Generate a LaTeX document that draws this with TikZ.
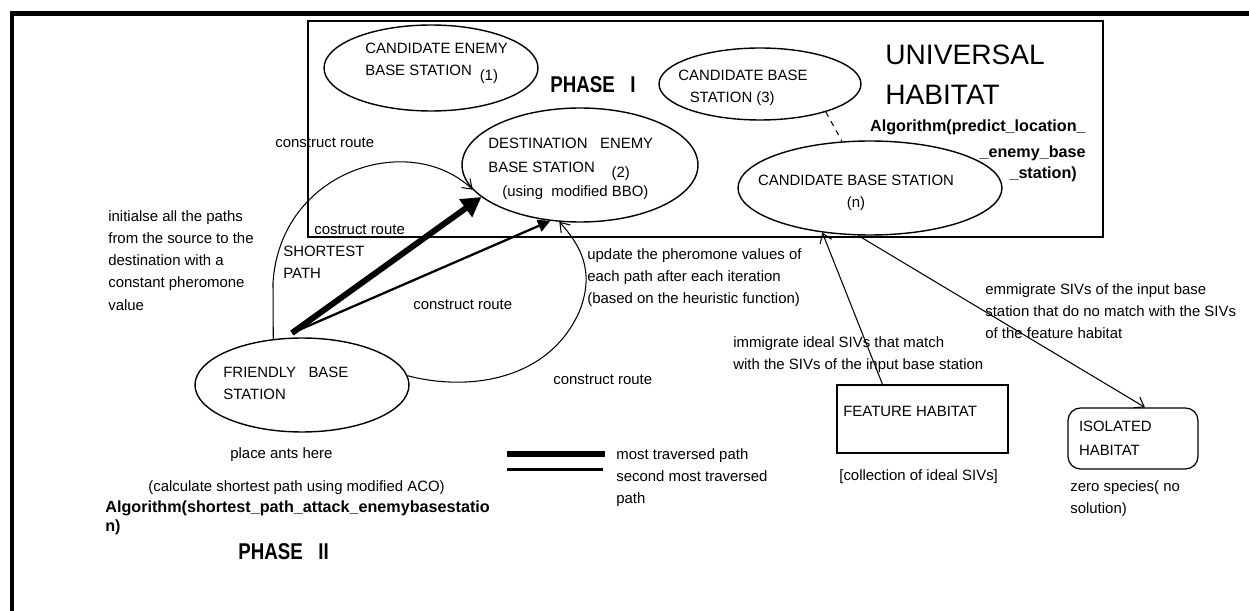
\documentclass[tikz,border=0pt]{standalone}
\usepackage{fontspec}
\setmainfont{Liberation Sans}
\usetikzlibrary{shapes.geometric,arrows.meta}
\newcommand\lbl[3]{\node[note](#1)at(#2){#3};}
\newcommand\phasetxt[1]{\scalebox{0.82}[1]{#1}}

\begin{document}
\begin{tikzpicture}[x=0.02cm,y=-0.02cm,font=\fontsize{8.5}{12.6}\selectfont]
% Node styles: stations, habitats and plain notes
\tikzstyle{station}=[ellipse,draw,line width=0.8pt,inner sep=0pt];
\tikzstyle{habitat}=[rectangle,draw,line width=0.7pt,inner sep=0pt];
\tikzstyle{note}=[anchor=west,inner sep=0pt,align=left];
\tikzstyle{algo}=[note,font=\bfseries\fontsize{9.2}{10.8}\selectfont];
\tikzstyle{phase}=[note,font=\bfseries\fontsize{13}{15}\selectfont];
% Line styles for the routes
\tikzstyle{trail}=[line width=0.6pt];
\tikzstyle{route}=[trail,-{Straight Barb[length=5pt,width=7pt]}];
\useasboundingbox (0,0) rectangle (1249,611);
% Frame
\draw[line width=2.6pt] (12,611) -- (12,13.5) -- (1249,13.5);
% Phase I: the universal habitat
\node[habitat,minimum width=15.9cm,minimum height=4.32cm](box) at (705.5,129) {};
\node[station,minimum width=4.28cm,minimum height=1.72cm](cand1) at (431,68) {};
\node[station,minimum width=4.04cm,minimum height=1.44cm](cand3) at (760,84) {};
\node[station,minimum width=5.28cm,minimum height=1.88cm](candN) at (870,188) {};
\node[station,minimum width=4.72cm,minimum height=2.28cm](dest) at (580,165) {};
\lbl{cand1txt}{365,63.5}{CANDIDATE ENEMY\\BASE STATION\hspace{4.5pt}\raisebox{-3pt}{(1)}}
\lbl{cand3txt}{678,87.5}{CANDIDATE BASE\\\hspace*{6.5pt}STATION (3)}
\lbl{desttxt}{488,169}{DESTINATION\ \ \ ENEMY\\[1pt]BASE STATION\hspace{9.5pt}\raisebox{-3pt}{(2)}\\[1pt]\hspace*{8pt}(using\ \ modified BBO)}
\node[note,anchor=center,align=center](candNtxt) at (856,192.5) {CANDIDATE BASE STATION\\(n)};
\node[phase](phase1) at (550,85) {\phasetxt{PHASE\ \ \ I}};
\node[note,font=\fontsize{16}{22.8}\selectfont](univ) at (885,75) {UNIVERSAL\\HABITAT};
\node[algo,anchor=east,align=right](algo1) at (1086,150.5) {Algorithm(predict\_location\_\\[4pt]\_enemy\_base\\[1pt]\_station)\hspace*{5pt}};
\draw[trail,dashed] (cand3.337) -- (candN.121);
% Phase II: ants from the friendly base station
\node[station,minimum width=4.28cm,minimum height=1.88cm](friendly) at (302,385) {};
\lbl{friendtxt}{223,383.5}{FRIENDLY\ \ \ BASE\\STATION}
\coordinate (antsrc) at (292,333);
\draw[line width=3.4pt,-{Triangle[length=11pt,width=12pt]}] (antsrc) -- (dest.198);
\draw[line width=1.3pt,-{Triangle[length=7pt,width=7pt]}] (antsrc) -- (dest.242);
\draw[route] (friendly.122) -- (273,283) .. controls (280,170) and (410,130) .. (dest.193);
\draw[route] (friendly.5) .. controls (470,392) and (550,380) .. (580,310) .. controls (595,270) and (580,245) .. (dest.250);
\lbl{cr1}{275,143}{construct route}
\lbl{cr2}{314,230}{costruct route}
\lbl{shortest}{283,262.5}{SHORTEST\\PATH}
\lbl{init}{108,260.5}{initialse all the paths\\from the source to the\\destination with a\\constant pheromone\\value}
\lbl{cr3}{413,305}{construct route}
\lbl{cr4}{553,380}{construct route}
\lbl{update}{587,277.5}{update the pheromone values of\\each path after each iteration\\(based on the heuristic function)}
\lbl{placeants}{230,455}{place ants here}
\lbl{aco}{148,488}{(calculate shortest path using modified ACO)}
\node[algo](algo2) at (105,517.5) {Algorithm(shortest\_path\_attack\_enemybasestatio\\n)};
\node[phase](phase2) at (238,552) {\phasetxt{PHASE\ \ \ II}};
% Feature and isolated habitats
\node[habitat,minimum width=3.42cm,minimum height=1.36cm](feature) at (922.5,419) {};
\lbl{featuretxt}{843,411}{FEATURE HABITAT}
\node[habitat,rounded corners=0.25cm,text width=2.16cm,inner xsep=0.22cm,minimum height=1.22cm,align=left](isolated) at (1133,438.5) {ISOLATED\\[1pt]HABITAT};
\draw[route] ([xshift=-0.8cm]feature.north) -- (candN.223);
\draw[route] (candN.256) -- ([xshift=0.24cm]isolated.north);
\lbl{immig}{733,355}{immigrate ideal SIVs that match\\with the SIVs of the input base station}
\lbl{emmig}{985,311.5}{emmigrate SIVs of the input base\\station that do no match with the SIVs\\of the feature habitat}
\lbl{collect}{839,477}{[collection of ideal SIVs]}
\lbl{zero}{1070,499}{zero species( no\\solution)}
% Legend
\coordinate (lgA) at (507,454);
\coordinate (lgB) at (605,454);
\coordinate (lgC) at (507,469.5);
\coordinate (lgD) at (603,469.5);
\draw[line width=3.4pt] (lgA) -- (lgB);
\draw[line width=1.7pt] (lgC) -- (lgD);
\lbl{legend}{616,478}{most traversed path\\second most traversed\\path}
\end{tikzpicture}
\end{document}
